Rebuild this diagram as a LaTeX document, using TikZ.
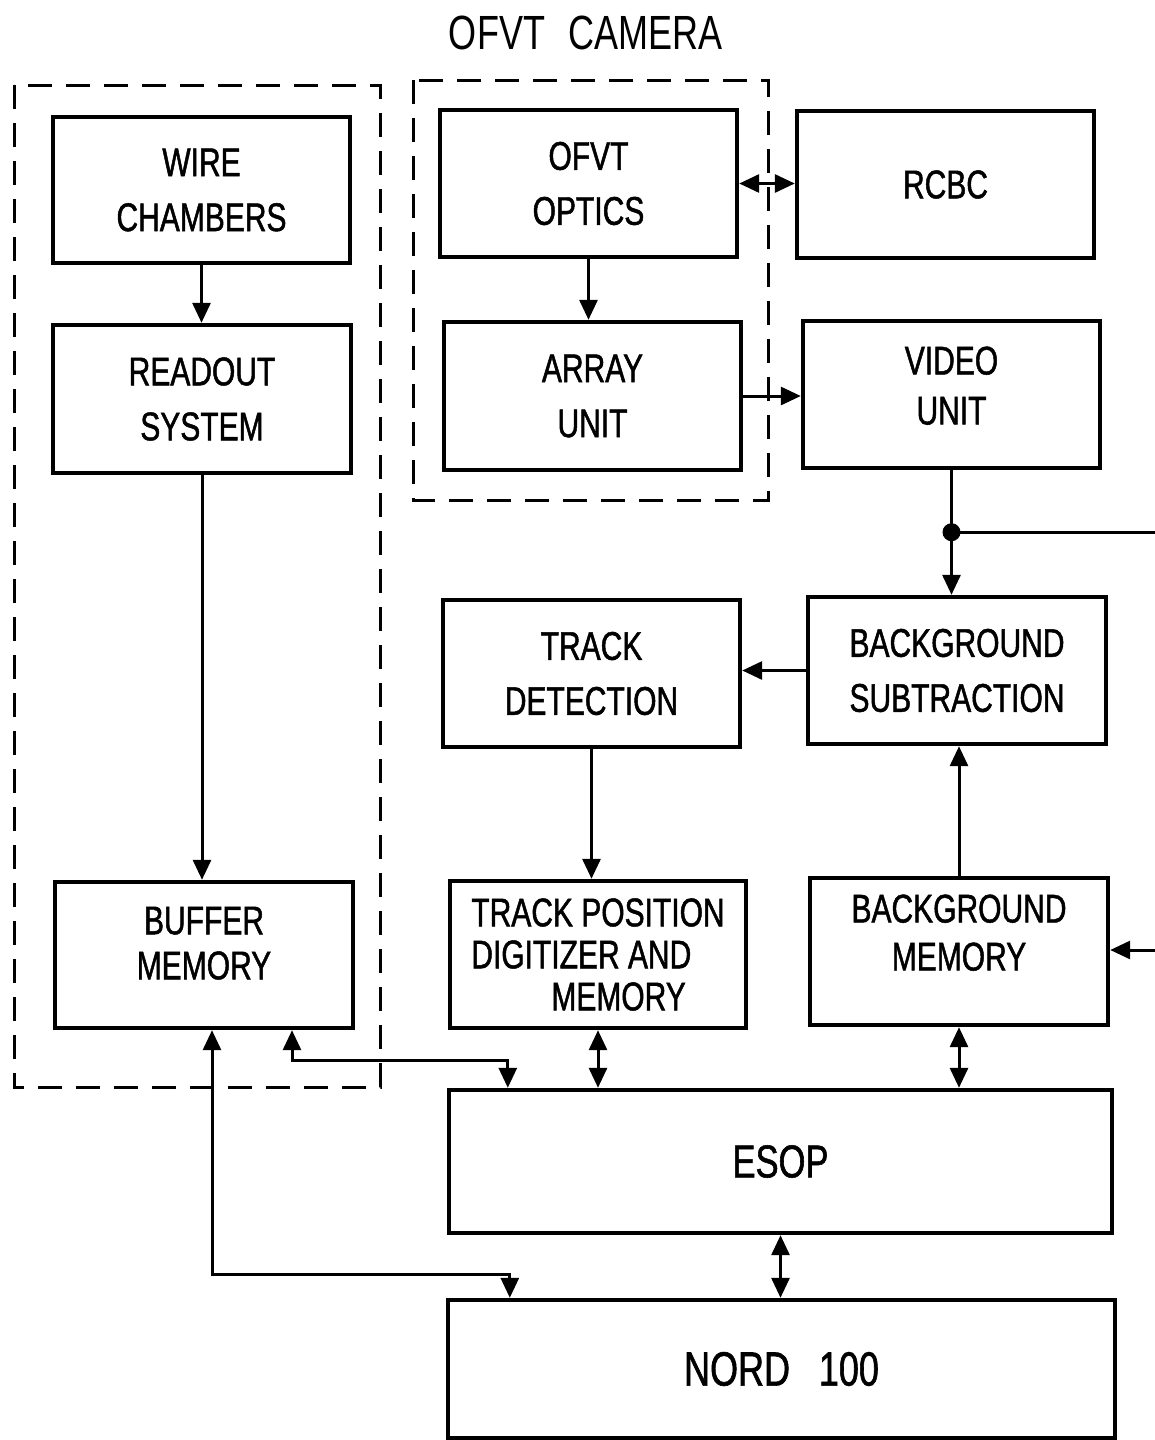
\documentclass[tikz,border=0pt]{standalone}
\usepackage{fontspec}
\setmainfont{Liberation Sans}[FakeStretch=0.75,FakeBold=1.2]
\newfontfamily\titlefont{Liberation Sans}[FakeStretch=0.75]
\usetikzlibrary{arrows.meta,calc}
\begin{document}
\begin{tikzpicture}[x=0.5pt,y=-0.5pt,
  box/.style={draw,line width=2.2pt,inner sep=0pt,align=center,font=\fontsize{20}{27.5}\selectfont},
  conn/.style={line width=1.5pt},
  arr/.style={conn,-{Triangle[length=10pt,width=9pt]}},
  dbl/.style={conn,{Triangle[length=10pt,width=9pt]}-{Triangle[length=10pt,width=9pt]}},
  dashbox/.style={line width=1.5pt,dash pattern=on 12pt off 7pt}]
\useasboundingbox (0,0) rectangle (1155,1440);
\node[font=\titlefont\fontsize{24}{28}\selectfont] (title) at (586,33) {OFVT\hspace{0.5em}CAMERA};
% dashed groups
\draw[dashbox] (14,85) rectangle (380,1087);
\draw[dashbox] (413,80) rectangle (768,500);
% boxes
\node[box,minimum width=148.5pt,minimum height=73pt] (wire) at (201.5,190) {WIRE\\CHAMBERS};
\node[box,minimum width=149pt,minimum height=74pt] (readout) at (202,399) {READOUT\\SYSTEM};
\node[box,minimum width=149pt,minimum height=73pt,font=\fontsize{20}{22.5}\selectfont,text depth=12pt] (buffer) at (204,955) {BUFFER\\MEMORY};
\node[box,minimum width=148.5pt,minimum height=73.5pt] (optics) at (588.5,183.5) {OFVT\\OPTICS};
\node[box,minimum width=148.5pt,minimum height=74pt] (array) at (592.5,396) {ARRAY\\UNIT};
\node[box,minimum width=148.5pt,minimum height=73.5pt] (rcbc) at (945.5,184.5) {RCBC};
\node[box,minimum width=148.5pt,minimum height=73.5pt,font=\fontsize{20}{25}\selectfont,text depth=9pt] (video) at (951.5,394.5) {VIDEO\\UNIT};
\node[box,minimum width=148.5pt,minimum height=73.5pt] (trackdet) at (591.5,673.5) {TRACK\\DETECTION};
\node[box,minimum width=149pt,minimum height=73.5pt] (bgsub) at (957,670.5) {BACKGROUND\\SUBTRACTION};
\node[box,minimum width=148pt,minimum height=73.5pt,align=left,font=\fontsize{20}{21}\selectfont] (trackpos) at (598,954.5) {TRACK POSITION\\DIGITIZER AND\\\hspace*{40pt}MEMORY};
\node[box,minimum width=149pt,minimum height=73.5pt,font=\fontsize{20}{24}\selectfont,text depth=19pt] (bgmem) at (959,951.5) {BACKGROUND\\MEMORY};
\node[box,minimum width=331.5pt,minimum height=71.5pt,font=\fontsize{23}{27}\selectfont] (esop) at (780.5,1161.5) {ESOP};
\node[box,minimum width=333.5pt,minimum height=69pt,font=\fontsize{24}{28}\selectfont] (nord) at (781.5,1369) {NORD\hspace{0.6em}100};
% connectors
\draw[arr] (wire.south) -- (wire.south |- readout.north);
\draw[arr] (readout.south) -- (readout.south |- buffer.north);
\draw[arr] (optics.south) -- (optics.south |- array.north);
\draw[dbl] (optics.east) -- (optics.east -| rcbc.west);
\draw[arr] (array.east) -- (array.east -| video.west);
\draw[arr] (video.south) -- (video.south |- bgsub.north);
\coordinate (dot) at ($(video.south)+(0,62)$);
\coordinate (rightA) at (1155,530);
\fill (dot) circle (4.5pt);
\draw[conn] (dot) -- (dot -| rightA);
\draw[arr] (bgsub.west) -- (bgsub.west -| trackdet.east);
\draw[arr] (trackdet.south) -- (trackdet.south |- trackpos.north);
\draw[arr] (bgmem.north) -- (bgmem.north |- bgsub.south);
\coordinate (rightB) at (1155,950);
\draw[arr] (rightB) -- (rightB -| bgmem.east);
\draw[dbl] (trackpos.south) -- (trackpos.south |- esop.north);
\draw[dbl] (bgmem.south) -- (bgmem.south |- esop.north);
\draw[dbl] ($(buffer.south)+(88,0)$) -- ++(0,30) -| ($(esop.north west)+(61,0)$);
\draw[dbl] ($(buffer.south)+(8,0)$) -- ++(0,244) -| ($(nord.north west)+(64,0)$);
\draw[dbl] (esop.south) -- (esop.south |- nord.north);
\end{tikzpicture}
\end{document}
